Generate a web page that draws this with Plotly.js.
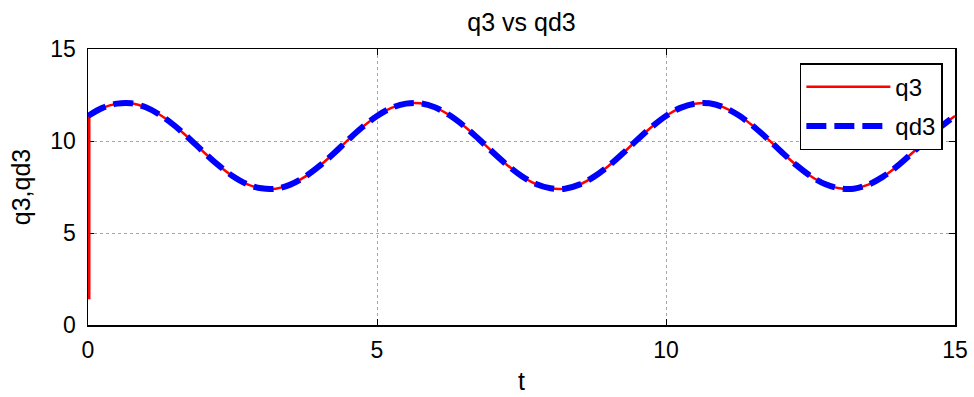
<!DOCTYPE html>
<html>
<head>
<meta charset="utf-8">
<script src="https://cdn.plot.ly/plotly-3.0.1.min.js"></script>
<style>html,body{margin:0;padding:0;background:#fff;}#chart{width:974px;height:397px;}</style>
</head>
<body>
<div id="chart"></div>
<script>
// time samples (s)
const t = [0,0.25,0.5,0.75,1,1.25,1.5,1.75,2,2.25,2.5,2.75,3,3.25,3.5,3.75,4,4.25,4.5,4.75,
  5,5.25,5.5,5.75,6,6.25,6.5,6.75,7,7.25,7.5,7.75,8,8.25,8.5,8.75,9,9.25,9.5,9.75,
  10,10.25,10.5,10.75,11,11.25,11.5,11.75,12,12.25,12.5,12.75,13,13.25,13.5,13.75,14,14.25,14.5,14.75,15];
// desired trajectory qd3
const qd3 = [11.36,11.80,12.03,12.05,11.83,11.41,10.83,10.14,9.40,8.70,8.10,7.66,7.43,7.41,7.63,8.05,8.63,9.32,10.06,10.76,
  11.36,11.80,12.03,12.05,11.83,11.41,10.83,10.14,9.40,8.70,8.10,7.66,7.43,7.41,7.63,8.05,8.63,9.32,10.06,10.76,
  11.36,11.80,12.03,12.05,11.83,11.41,10.83,10.14,9.40,8.70,8.10,7.66,7.43,7.41,7.63,8.05,8.63,9.32,10.06,10.76,11.36];
// actual q3: initial jump at t=0, then follows qd3
const q3JumpT = [0, 0];
const q3JumpV = [1.4, 11.36];
const q3 = qd3.slice();

const tickVals = [0,5,10,15];
const tickText = ['0','5','10','15'];

const FONT = 'Liberation Sans, Arial, sans-serif';

const traces = [
  {x: q3JumpT, y: q3JumpV, name: 'q3', mode: 'lines', legendgroup: 'q3', showlegend: false,
   line: {color: '#ff0000', width: 5}},
  {x: t, y: q3, name: 'q3', mode: 'lines', legendgroup: 'q3',
   line: {color: '#ff0000', width: 2.5, shape: 'spline'}},
  {x: t, y: qd3, name: 'qd3', mode: 'lines', legendgroup: 'qd3',
   line: {color: '#0000ff', width: 6, dash: '20px,8px', shape: 'spline'}}
];

const axisCommon = {
  range: [0, 15], tickvals: tickVals, ticktext: tickText,
  showline: true, mirror: 'ticks', linecolor: '#000', linewidth: 1.5,
  ticks: 'inside', ticklen: 6, tickcolor: '#000', tickwidth: 1,
  showgrid: true, gridcolor: '#a8a8a8', griddash: 'dot', gridwidth: 1,
  zeroline: false, layer: 'below traces',
  tickfont: {family: FONT, size: 23, color: '#000'}
};

const layout = {
  width: 974, height: 397,
  margin: {l: 88, r: 19, t: 49, b: 72},
  paper_bgcolor: '#fff', plot_bgcolor: '#fff',
  title: {text: 'q3 vs qd3', x: 0.5, xref: 'paper', yref: 'container', y: 0.945, yanchor: 'middle',
          font: {family: FONT, size: 25, color: '#000'}},
  xaxis: Object.assign({}, axisCommon, {
    ticklabelstandoff: 4,
    title: {text: 't', standoff: 10, font: {family: FONT, size: 25, color: '#000'}}
  }),
  yaxis: Object.assign({}, axisCommon, {
    ticklabelstandoff: 6,
    title: {text: 'q3,qd3', standoff: 12, font: {family: FONT, size: 25, color: '#000'}}
  }),
  showlegend: true,
  legend: {x: 0.986, xanchor: 'right', y: 0.949, yanchor: 'top',
           bgcolor: '#fff', bordercolor: '#000', borderwidth: 1.5,
           itemwidth: 84, traceorder: 'grouped', tracegroupgap: 5,
           font: {family: FONT, size: 24, color: '#000'}}
};

Plotly.newPlot('chart', traces, layout, {displayModeBar: false, staticPlot: true});
</script>
</body>
</html>
